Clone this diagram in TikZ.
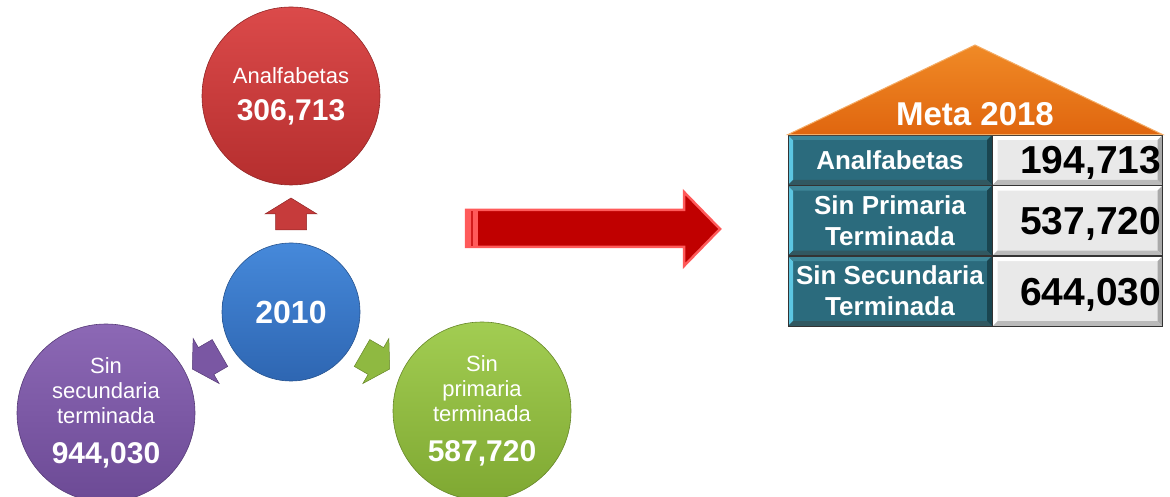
\documentclass[tikz,border=0pt]{standalone}
\usepackage{fontspec}
\setmainfont{Liberation Sans}
\usetikzlibrary{positioning, calc}

\definecolor{redtop}{HTML}{DB4A4A}
\definecolor{redbot}{HTML}{B52E2E}
\definecolor{bluetop}{HTML}{4689DA}
\definecolor{bluebot}{HTML}{2E66B2}
\definecolor{purpletop}{HTML}{8C68B5}
\definecolor{purplebot}{HTML}{6C4A95}
\definecolor{greentop}{HTML}{A2CD52}
\definecolor{greenbot}{HTML}{7FA832}
\definecolor{bigred}{HTML}{C00000}
\definecolor{bigrim}{HTML}{FF5A5A}
\definecolor{rooftop}{HTML}{F08A26}
\definecolor{roofbot}{HTML}{E0660F}
\definecolor{tealcell}{HTML}{2B6B7D}
\definecolor{tealhi}{HTML}{5CC6E2}
\definecolor{tealtop}{HTML}{3E8698}
\definecolor{tealdark}{HTML}{1A4550}
\definecolor{graycell}{HTML}{E9E9E9}
\definecolor{graydark}{HTML}{A9A9A9}

\tikzset{
  bevel/.style n args={4}{path picture={
    \path (path picture bounding box.south west) coordinate (bsw)
          (path picture bounding box.north east) coordinate (bne);
    \fill[#1] (bsw) -- (bsw|-bne) -- ($(bsw|-bne)+(5,-5)$) -- ($(bsw)+(5,5)$) -- cycle;
    \fill[#2] (bsw|-bne) -- (bne) -- ($(bne)+(-5,-5)$) -- ($(bsw|-bne)+(5,-5)$) -- cycle;
    \fill[#3] (bne) -- (bne|-bsw) -- ($(bne|-bsw)+(-5,5)$) -- ($(bne)+(-5,-5)$) -- cycle;
    \fill[#4] (bsw) -- (bne|-bsw) -- ($(bne|-bsw)+(-5,5)$) -- ($(bsw)+(5,5)$) -- cycle;
  }}
}

\begin{document}
\begin{tikzpicture}[x=1pt, y=1pt]
    \tikzstyle{ball} = [circle, minimum size=178, inner sep=0pt, align=center, text=white, font=\fontsize{22}{25}\selectfont, line width=0.6]
    \tikzstyle{core} = [circle, minimum size=138, inner sep=0pt, text=white, font=\fontsize{32}{36}\selectfont\bfseries, line width=0.6]
    \tikzstyle{goalname} = [rectangle, minimum width=204, inner sep=0pt, draw=black!80, line width=0.6, fill=tealcell, text=white, align=center, font=\fontsize{26}{31}\selectfont\bfseries, bevel={tealhi}{tealtop}{tealdark}{tealdark!90}]
    \tikzstyle{goalvalue} = [rectangle, minimum width=170, text width=167, inner xsep=1.5, inner ysep=0pt, text height=28, text depth=0, draw=black!80, line width=0.6, fill=graycell, align=right, font=\fontsize{39}{40}\selectfont\bfseries, bevel={white}{white}{graydark}{graydark!80}]

    \useasboundingbox (0,0) rectangle (1170,497);

    % radial part
    \node[core, top color=bluetop, bottom color=bluebot, draw=bluebot!80!black] (core) at (291,185) {2010};
    \node[ball, top color=redtop, bottom color=redbot, draw=redbot!80!black] (illit) at (291,401)
        {Analfabetas\\[12pt]{\fontsize{30}{30}\selectfont\bfseries 306,713}};
    \node[ball, top color=purpletop, bottom color=purplebot, draw=purplebot!80!black] (nosec) at (106,84)
        {Sin\\secundaria\\terminada\\[15pt]{\fontsize{30}{30}\selectfont\bfseries 944,030}};
    \node[ball, top color=greentop, bottom color=greenbot, draw=greenbot!80!black] (noprim) at (482,86)
        {Sin\\primaria\\terminada\\[15pt]{\fontsize{30}{30}\selectfont\bfseries 587,720}};

    \foreach \ang/\col/\hi in {0/redbot/redtop, 120/purplebot/purpletop, 240/greenbot/greentop}
        \fill[\col!55!\hi, draw=\col!80!black, line width=0.5, shift={(core.center)}, rotate=\ang]
            (-15.5,82) -- (-15.5,98) -- (-26,98) -- (0,114) -- (26,98) -- (15.5,98) -- (15.5,82) -- cycle;

    % big arrow
    \fill[bigred, draw=bigrim, line width=2.5] (466,287) -- (684,287) -- (684,305) -- (720,268)
        -- (684,231) -- (684,250) -- (466,250) -- cycle;
    \fill[bigrim] (465,251) rectangle (478,286);
    \draw[bigred!70!bigrim, line width=1.2] (472,251) -- (472,286);

    % goal table
    \node[goalname, minimum height=50] (gn1) at (890,337) {Analfabetas};
    \node[goalname, minimum height=70, below=0pt of gn1] (gn2) {Sin Primaria\\Terminada};
    \node[goalname, minimum height=70, below=0pt of gn2] (gn3) {Sin Secundaria\\Terminada};
    \node[goalvalue, minimum height=50, right=0pt of gn1] (gv1) {194,713};
    \node[goalvalue, minimum height=70, right=0pt of gn2] (gv2) {537,720};
    \node[goalvalue, minimum height=70, right=0pt of gn3] (gv3) {644,030};

    \coordinate (apex) at (975,452);
    \draw[top color=rooftop, bottom color=roofbot, draw=rooftop!70!white, line width=1]
        (gn1.north west) -- (apex) -- (gv1.north east) -- cycle;
    \node[text=white, font=\fontsize{33}{36}\selectfont\bfseries] (meta) at (975,383) {Meta 2018};
\end{tikzpicture}
\end{document}
